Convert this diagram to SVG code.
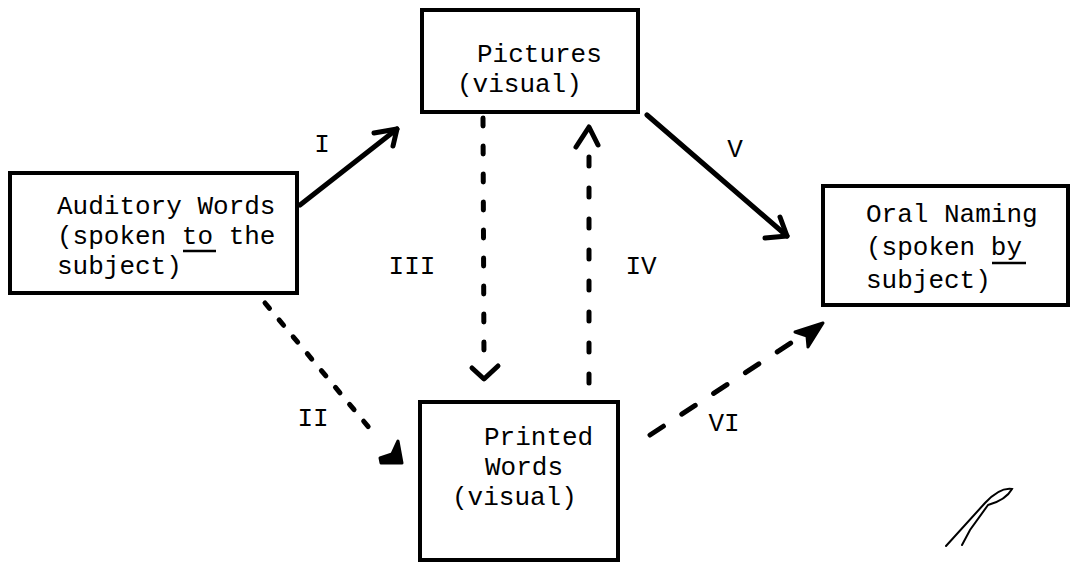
<svg xmlns="http://www.w3.org/2000/svg" width="1076" height="563" viewBox="0 0 1076 563">
<style>
.box{fill:#fff;stroke:#000;stroke-width:4}
.t{font-family:"Liberation Mono","DejaVu Sans Mono",monospace;font-size:26px;fill:#000}
.ul{stroke:#000;stroke-width:2.5}
.solid{fill:none;stroke:#000;stroke-width:5;stroke-linecap:round}
.dash{fill:none;stroke:#000;stroke-width:5;stroke-linecap:round}
.head{fill:none;stroke:#000;stroke-width:5;stroke-linecap:round;stroke-linejoin:round}
.fhead{fill:#000;stroke:#000;stroke-width:3;stroke-linejoin:round}
</style>
<rect width="1076" height="563" fill="#fff"/>
<g id="connectors">
  <g id="edge-I">
    <line class="solid" x1="300" y1="205" x2="397" y2="129"/>
    <polyline class="head" points="374,133 397,129 393,146"/>
    <text class="t" x="322" y="152" text-anchor="middle">I</text>
  </g>
  <g id="edge-V">
    <line class="solid" x1="647" y1="115" x2="787" y2="236"/>
    <polyline class="head" points="765,238 787,236 780,217"/>
    <text class="t" x="735" y="157" text-anchor="middle">V</text>
  </g>
  <g id="edge-III">
    <line class="dash" x1="483" y1="118" x2="484" y2="365" stroke-dasharray="8 20"/>
    <polyline class="head" points="472,368 484,379 498,366"/>
    <text class="t" x="412" y="274" text-anchor="middle">III</text>
  </g>
  <g id="edge-IV">
    <line class="dash" x1="589" y1="383" x2="589" y2="140" stroke-dasharray="9 22"/>
    <polyline class="head" points="576,147 589,127 598,145"/>
    <text class="t" x="641" y="274" text-anchor="middle">IV</text>
  </g>
  <g id="edge-II">
    <line class="dash" x1="265" y1="303" x2="376" y2="436" stroke-dasharray="7 15"/>
    <path class="fhead" d="M380,458 L392,454 L398,441 L402,463 L381,463 Z"/>
    <text class="t" x="313" y="426" text-anchor="middle">II</text>
  </g>
  <g id="edge-VI">
    <line class="dash" x1="650" y1="435" x2="803" y2="335" stroke-dasharray="16 22"/>
    <path class="fhead" d="M795,332 L823,323 L808,347 L807,336 Z"/>
    <text class="t" x="724" y="431" text-anchor="middle">VI</text>
  </g>
</g>
<g id="node-auditory">
  <rect class="box" x="10" y="173" width="287" height="120"/>
  <text class="t" x="57" y="214">Auditory Words</text>
  <text class="t" x="57" y="244">(spoken to the</text>
  <line class="ul" x1="183" y1="251" x2="216" y2="251"/>
  <text class="t" x="57" y="274">subject)</text>
</g>
<g id="node-pictures">
  <rect class="box" x="422" y="10" width="216" height="102"/>
  <text class="t" x="477" y="62">Pictures</text>
  <text class="t" x="457" y="92">(visual)</text>
</g>
<g id="node-oral">
  <rect class="box" x="823" y="186" width="245" height="119"/>
  <text class="t" x="866" y="222">Oral Naming</text>
  <text class="t" x="866" y="255">(spoken by</text>
  <line class="ul" x1="992" y1="263" x2="1026" y2="263"/>
  <text class="t" x="866" y="288">subject)</text>
</g>
<g id="node-printed">
  <rect class="box" x="420" y="402" width="198" height="158"/>
  <text class="t" x="484" y="445">Printed</text>
  <text class="t" x="485" y="475">Words</text>
  <text class="t" x="452" y="505">(visual)</text>
</g>
<g id="scribble" fill="none" stroke="#000" stroke-width="2" stroke-linecap="round">
  <path d="M946,546 L985,503 Q1000,487 1012,489 Q1006,500 988,505 L970,530 L962,545"/>
</g>
</svg>
